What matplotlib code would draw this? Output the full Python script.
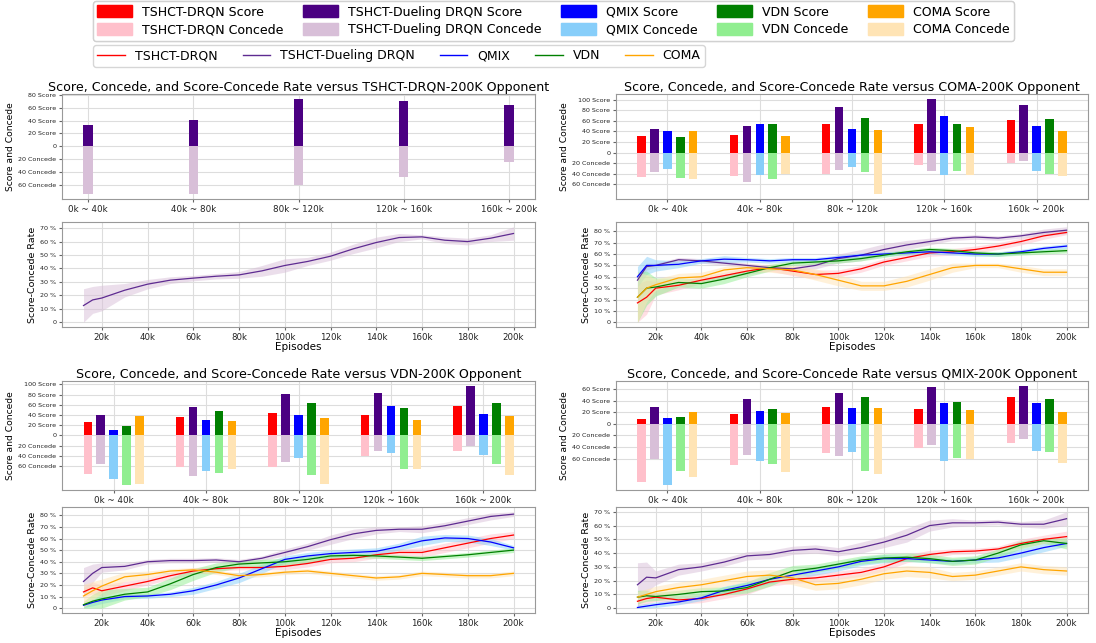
import numpy as np
import matplotlib.pyplot as plt
from matplotlib.patches import Patch
from matplotlib.lines import Line2D
from matplotlib.ticker import FuncFormatter

# algorithms and colours
algos = ['TSHCT-DRQN', 'TSHCT-Dueling DRQN', 'QMIX', 'VDN', 'COMA']
score_colors = ['red', 'indigo', 'blue', 'green', 'orange']
concede_colors = ['pink', 'thistle', 'lightskyblue', 'lightgreen', 'moccasin']
line_colors = ['red', '#5e2b91', 'blue', 'green', 'orange']

groups = ['0k ~ 40k', '40k ~ 80k', '80k ~ 120k', '120k ~ 160k', '160k ~ 200k']
episodes = [12, 16, 20, 30, 40, 50, 60, 70, 80, 90, 100,
            110, 120, 130, 140, 150, 160, 170, 180, 190, 200]  # in k

# ---- versus TSHCT-DRQN-200K (only TSHCT-Dueling DRQN) ----
drqn_algos = [1]
drqn_score = [[33, 41, 74, 71, 64]]
drqn_concede = [[75, 74, 61, 48, 25]]
drqn_bar_ticks = [-60, -40, -20, 0, 20, 40, 60, 80]
drqn_rate = [[12.4, 16.6, 18, 23.8, 28.3, 31.3, 32.8, 34.2, 35.2, 38.2, 42.2,
              45.2, 49.1, 54.6, 59.3, 63, 63.5, 61, 60, 62.5, 66]]
drqn_spread = [[12.5, 10, 9.5, 5, 3.5, 2.5, 2, 2, 2.5, 4, 5,
                3, 3, 3.5, 4, 3, 1.5, 2.5, 2.5, 2.5, 5]]
drqn_rate_ticks = [0, 10, 20, 30, 40, 50, 60, 70]

# ---- versus COMA-200K ----
coma_algos = [0, 1, 2, 3, 4]
coma_score = [[31, 33, 55, 55, 62],
              [45, 51, 86, 102, 91],
              [41, 54, 44, 70, 50],
              [29, 55, 65, 55, 64],
              [40, 31, 42, 48, 40]]
coma_concede = [[47, 44, 40, 23, 19.5],
                [37, 55, 33, 35, 16],
                [31, 42, 26.5, 43, 35],
                [48.5, 51, 36.5, 35, 40],
                [50, 41, 79, 42, 44]]
coma_bar_ticks = [-60, -40, -20, 0, 20, 40, 60, 80, 100]
coma_rate = [[17, 22, 30, 32.5, 37, 41, 45, 48, 45, 42, 43,
              47, 53, 57, 61, 62, 64, 67, 71, 76, 79],
             [37, 49, 50, 55, 54, 52, 50, 48, 47, 50, 56,
              59, 64, 68, 71, 74, 75, 74, 76, 79, 81],
             [40, 50, 50, 51, 54, 55.5, 55, 54, 55, 55, 57,
              59, 60, 61, 62, 61, 60, 60, 62, 65, 67],
             [22, 30, 31, 35, 34, 38, 43, 48, 52, 53, 54,
              56, 59, 62, 64, 63, 61, 60, 61, 62, 63],
             [22, 30, 33, 39, 40, 46, 48, 47, 46, 42, 37,
              32, 32, 36, 42, 48, 50, 50, 47, 44, 44]]
coma_spread = [[17, 15, 6, 4, 3, 3, 3, 3, 4, 4, 3, 3, 3, 3, 3, 3, 3, 3, 3, 3, 2],
               [3, 3, 2, 2, 2, 2, 2, 2, 2, 3, 4, 5, 5, 4, 3, 2, 2, 2, 2, 3, 3],
               [9, 8, 5, 3, 2, 3, 2, 2, 2, 2, 2, 2, 2, 2, 2, 2, 2, 2, 2, 2, 2],
               [22, 15, 8, 4, 4, 4, 3, 3, 2, 2, 2, 2, 2, 2, 2, 2, 2, 2, 2, 2, 2],
               [22, 12, 5, 4, 4, 3, 3, 3, 4, 5, 5, 4, 4, 5, 5, 4, 2, 2, 3, 3, 3]]
coma_rate_ticks = [0, 10, 20, 30, 40, 50, 60, 70, 80]

# ---- versus VDN-200K ----
vdn_algos = [0, 1, 2, 3, 4]
vdn_score = [[26, 36, 44, 40, 58],
             [40, 56, 82, 83, 97],
             [11, 29.5, 40, 57, 43],
             [19, 48, 63, 54, 63],
             [37.6, 28, 35, 31, 39]]
vdn_concede = [[76, 62, 62, 40, 29.5],
               [56, 80, 52, 29.5, 21.5],
               [86, 69, 45, 34, 37.5],
               [97, 73, 76.5, 66, 55],
               [94, 66, 95, 66, 76.5]]
vdn_bar_ticks = [-60, -40, -20, 0, 20, 40, 60, 80, 100]
vdn_rate = [[14, 17.5, 15, 19, 23, 28, 32, 34, 35, 35, 36,
             38.5, 42, 43, 46, 48, 48, 52, 56, 60, 63],
            [23, 30, 35, 36, 40, 41, 41, 41.5, 40, 43, 48,
             53, 59, 64, 67, 68, 68, 71, 75, 79, 81],
            [2.5, 5, 7, 10, 10.5, 12, 15, 20, 26, 34, 42,
             45, 47, 48, 49, 53, 58, 60.5, 60, 57, 52],
            [3, 6, 8, 12, 14, 21, 29, 35, 38, 39, 40,
             42, 45, 45.5, 45, 44, 43, 44.5, 46, 48, 50],
            [10.5, 15, 19, 27, 29, 32, 33, 31, 28, 29, 31,
             32, 30, 28, 26, 27, 30, 29, 28, 28, 30]]
vdn_spread = [[4, 5, 5, 4, 3, 3, 3, 2, 2, 2, 3, 3, 3, 3, 3, 3, 4, 4, 4, 4, 3],
              [12, 8, 4, 3, 2, 2, 2, 2, 2, 2, 3, 3, 4, 4, 3, 2, 3, 3, 3, 3, 2],
              [2, 3, 3, 2, 2, 2, 3, 3, 4, 4, 3, 3, 3, 3, 3, 3, 4, 3, 3, 3, 2],
              [3, 6, 8, 5, 4, 5, 5, 4, 3, 3, 3, 3, 2, 2, 2, 2, 2, 2, 2, 2, 2],
              [10, 8, 6, 4, 3, 2, 2, 2, 2, 2, 2, 2, 2, 2, 2, 2, 2, 2, 2, 2, 2]]
vdn_rate_ticks = [0, 10, 20, 30, 40, 50, 60, 70, 80]

# ---- versus QMIX-200K ----
qmix_algos = [0, 1, 2, 3, 4]
qmix_score = [[9.5, 17.8, 29.7, 26.7, 47.5],
              [29.7, 43, 53, 64, 66],
              [10.7, 23, 28, 36.8, 36.8],
              [12.5, 26.7, 46, 37.4, 44],
              [21.4, 19.6, 28.5, 24.3, 20.8]]
qmix_concede = [[101, 72, 50.4, 41, 33.8],
                [61, 53.4, 56.4, 36, 25.5],
                [106, 64.7, 48, 63.5, 47.5],
                [82, 70, 82, 59.3, 49.3],
                [92, 83.7, 86, 60.5, 67]]
qmix_bar_ticks = [-60, -40, -20, 0, 20, 40, 60]
qmix_rate = [[5, 7, 8, 6, 7, 10, 14, 19, 21, 22, 24,
              26, 30, 36, 39, 41, 41.5, 43, 47, 50, 52],
             [17, 22.5, 22, 28, 30, 33.5, 38, 39, 42, 43, 41,
              44, 48, 53, 60, 62, 62, 62.5, 61, 61, 65],
             [0.5, 1.5, 2.5, 4.5, 7.5, 13, 16.5, 21, 24, 27, 30,
              34, 36, 36, 35, 34, 35, 36.5, 40, 44, 47],
             [8, 9, 8.5, 10, 12, 12.5, 15, 21, 27, 29, 32,
              35, 36.5, 37, 36, 34, 35, 40, 46, 49, 47],
             [8, 10, 12, 15, 17, 20, 23, 24, 22, 17, 18,
              21, 25, 27, 26, 23, 24, 27, 30, 28, 27]]
qmix_spread = [[3, 4, 3, 3, 3, 3, 4, 3, 3, 3, 3, 3, 3, 3, 3, 2, 2, 2, 3, 3, 4],
               [16, 11, 5, 4, 3, 3, 3, 3, 3, 3, 3, 4, 4, 5, 4, 3, 2, 2, 2, 3, 5],
               [2, 2, 2, 2, 2, 3, 3, 3, 3, 3, 3, 3, 3, 2, 2, 2, 2, 3, 3, 3, 2],
               [5, 4, 3, 3, 3, 3, 4, 5, 4, 3, 3, 3, 3, 3, 3, 3, 3, 3, 3, 2, 4],
               [4, 4, 4, 4, 4, 4, 4, 4, 5, 4, 4, 4, 4, 4, 4, 3, 3, 3, 3, 3, 3]]
qmix_rate_ticks = [0, 10, 20, 30, 40, 50, 60, 70]


def bar_label(v, pos):
    if v > 0:
        return f'{int(v)} Score'
    if v < 0:
        return f'{int(-v)} Concede'
    return '0'


def rate_label(v, pos):
    return '0' if v == 0 else f'{int(v)} %'


def style_axes(ax):
    ax.grid(True, color='#dddddd', linewidth=0.8)
    ax.set_axisbelow(True)
    for s in ax.spines.values():
        s.set_color('#999999')
    ax.tick_params(colors='#666666', labelcolor='#222222', length=2.5, pad=1.5)


def draw_bars(ax, idx, score, concede, ticks, title):
    x = np.arange(len(groups))
    n = len(idx)
    for j, a in enumerate(idx):
        off = (j - (n - 1) / 2) * 0.14
        ax.bar(x + off, score[j], width=0.09, color=score_colors[a])
        ax.bar(x + off, -np.array(concede[j]), width=0.09, color=concede_colors[a])
    ax.set_xticks(x)
    ax.set_xticklabels(groups)
    ax.set_yticks(ticks)
    ax.yaxis.set_major_formatter(FuncFormatter(bar_label))
    style_axes(ax)
    ax.tick_params(axis='y', labelsize=4.6)
    ax.tick_params(axis='x', labelsize=6.3)
    ax.set_ylabel('Score and Concede', fontsize=6.6, labelpad=2)
    ax.set_title(title, fontsize=9.1, pad=1.5)


def draw_rate(ax, idx, rate, spread, ticks):
    ep = np.array(episodes) * 1000
    for j, a in enumerate(idx):
        r = np.array(rate[j])
        s = np.array(spread[j])
        ax.fill_between(ep, np.clip(r - s, 0, None), r + s,
                        color=concede_colors[a], alpha=0.5, linewidth=0)
        ax.plot(ep, r, color=line_colors[a], linewidth=0.9)
    ax.set_xticks(np.arange(20000, 200001, 20000))
    ax.set_xticklabels([f'{k}k' for k in range(20, 201, 20)])
    ax.set_yticks(ticks)
    ax.yaxis.set_major_formatter(FuncFormatter(rate_label))
    style_axes(ax)
    ax.tick_params(axis='y', labelsize=4.6)
    ax.tick_params(axis='x', labelsize=6.2)
    ax.set_ylabel('Score-Concede Rate', fontsize=6.8, labelpad=2)
    ax.set_xlabel('Episodes', fontsize=7.5, labelpad=0)


def main():
    W, H = 1096, 643
    fig = plt.figure(figsize=(W / 100, H / 100), dpi=100)

    def box(x0, y0, x1, y1):
        return fig.add_axes([x0 / W, 1 - y1 / H, (x1 - x0) / W, (y1 - y0) / H])

    lx = (62, 535)
    rx = (616, 1088)
    top_bar = (94, 199)
    top_line = (222, 327)
    bot_bar = (381, 490)
    bot_line = (507, 613)

    ttl = 'Score, Concede, and Score-Concede Rate versus {} Opponent'

    ax = box(lx[0], top_bar[0], lx[1], top_bar[1])
    draw_bars(ax, drqn_algos, drqn_score, drqn_concede, drqn_bar_ticks,
              ttl.format('TSHCT-DRQN-200K'))
    ax = box(lx[0], top_line[0], lx[1], top_line[1])
    draw_rate(ax, drqn_algos, drqn_rate, drqn_spread, drqn_rate_ticks)

    ax = box(rx[0], top_bar[0], rx[1], top_bar[1])
    draw_bars(ax, coma_algos, coma_score, coma_concede, coma_bar_ticks,
              ttl.format('COMA-200K'))
    ax = box(rx[0], top_line[0], rx[1], top_line[1])
    draw_rate(ax, coma_algos, coma_rate, coma_spread, coma_rate_ticks)

    ax = box(lx[0], bot_bar[0], lx[1], bot_bar[1])
    draw_bars(ax, vdn_algos, vdn_score, vdn_concede, vdn_bar_ticks,
              ttl.format('VDN-200K'))
    ax = box(lx[0], bot_line[0], lx[1], bot_line[1])
    draw_rate(ax, vdn_algos, vdn_rate, vdn_spread, vdn_rate_ticks)

    ax = box(rx[0], bot_bar[0], rx[1], bot_bar[1])
    draw_bars(ax, qmix_algos, qmix_score, qmix_concede, qmix_bar_ticks,
              ttl.format('QMIX-200K'))
    ax = box(rx[0], bot_line[0], rx[1], bot_line[1])
    draw_rate(ax, qmix_algos, qmix_rate, qmix_spread, qmix_rate_ticks)

    # legends
    patches = []
    for a in range(len(algos)):
        patches.append(Patch(color=score_colors[a], label=f'{algos[a]} Score'))
        patches.append(Patch(color=concede_colors[a], label=f'{algos[a]} Concede'))
    leg1 = fig.legend(handles=patches, loc='upper left',
                      bbox_to_anchor=(93 / W, 1 - 1 / H), ncol=5, fontsize=9,
                      handlelength=2.8, handleheight=1.1, columnspacing=1.55,
                      labelspacing=0.35, borderpad=0.35, borderaxespad=0)
    fig.add_artist(leg1)
    lines = [Line2D([], [], color=line_colors[a], linewidth=1, label=algos[a])
             for a in range(len(algos))]
    fig.legend(handles=lines, loc='upper left', bbox_to_anchor=(93 / W, 1 - 45 / H),
               ncol=5, fontsize=9, handlelength=2.2, columnspacing=2.0,
               borderpad=0.35, borderaxespad=0)

    fig.savefig('out.png', dpi=100)


if __name__ == "__main__":
    main()
